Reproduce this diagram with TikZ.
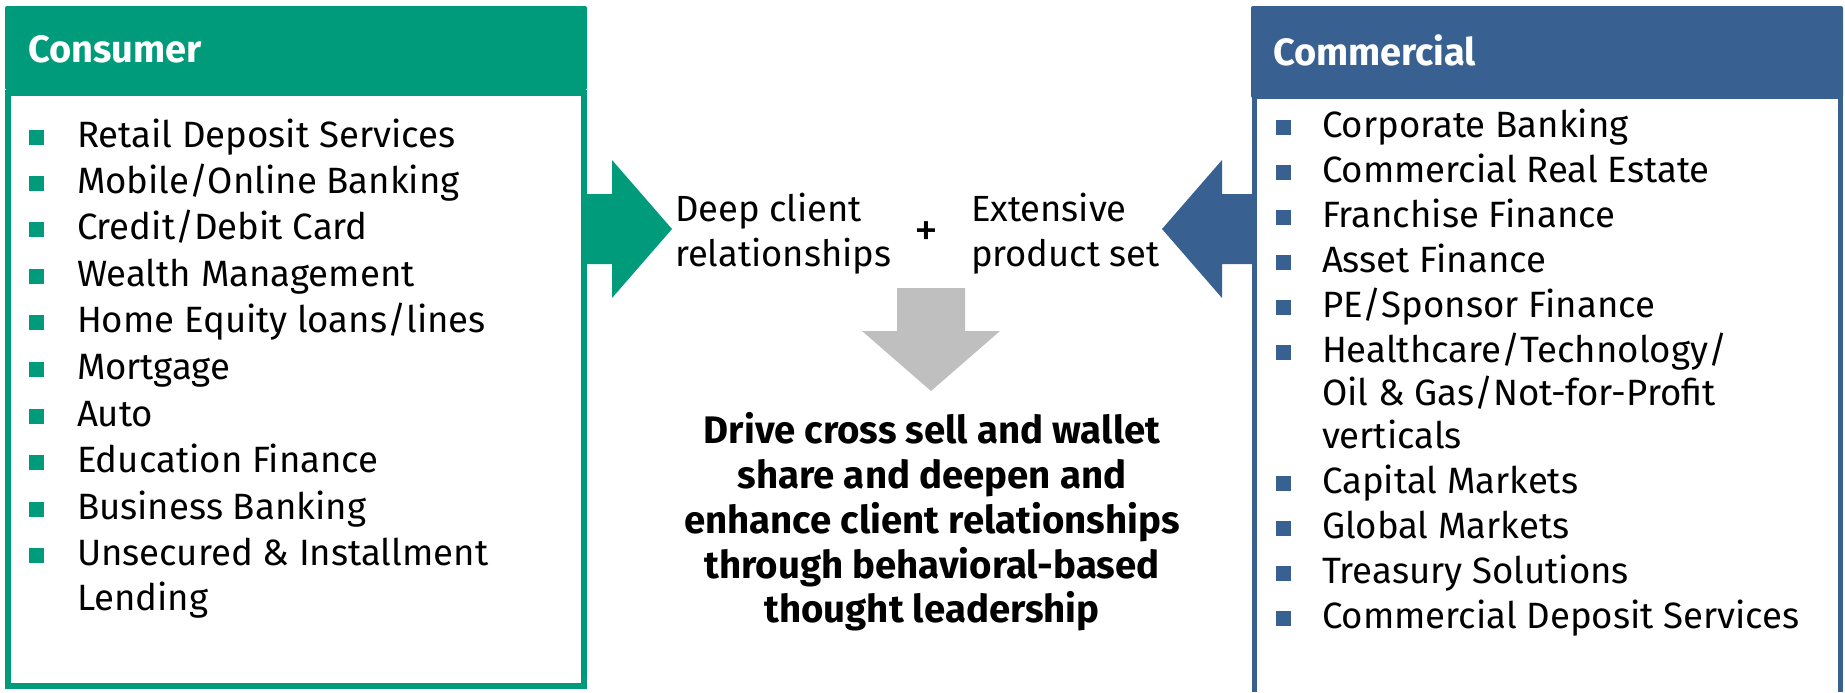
\documentclass[tikz,border=0pt]{standalone}
\usepackage{fontspec}
\setmainfont{Fira Sans}
\definecolor{consgreen}{RGB}{0,155,122}
\definecolor{commblue}{RGB}{56,97,146}
\definecolor{arrowgray}{RGB}{191,191,191}

% one bulleted line: name, colour, bullet x, text x, baseline, text
\newcommand{\panelitem}[6]{%
  \fill[#2] (#3,#5-17) rectangle ++(15,15);
  \node[itemtext] (#1) at (#4,#5) {#6};}

\begin{document}
\begin{tikzpicture}[x=0.5pt,y=-0.5pt,
  itemtext/.style={inner sep=0pt,outer sep=0pt,anchor=base west,
    font=\fontsize{18.3}{20}\selectfont},
  headtext/.style={inner sep=0pt,outer sep=0pt,anchor=base west,text=white,
    font=\fontsize{19}{22}\selectfont\bfseries},
  midtext/.style={inner sep=0pt,outer sep=0pt,anchor=base west,
    font=\fontsize{18.2}{22}\selectfont},
  goaltext/.style={inner sep=0pt,outer sep=0pt,anchor=base,
    font=\fontsize{19.2}{22}\selectfont\bfseries}]
\useasboundingbox (0,0) rectangle (1845,692);
\fill[white] (0,0) rectangle (1845,692);

% ---- Consumer panel ----
\fill[consgreen,rounded corners=1pt] (5,6) rectangle (587,90);
\draw[consgreen,line width=3pt] (8,93) rectangle (584,686);
\node[headtext] (constitle) at (28,62) {Consumer};
\panelitem{c1}{consgreen}{29}{77}{147}{Retail Deposit Services}
\panelitem{c2}{consgreen}{29}{77}{193}{Mobile/Online Banking}
\panelitem{c3}{consgreen}{29}{77}{239}{Credit/Debit Card}
\panelitem{c4}{consgreen}{29}{77}{286}{Wealth Management}
\panelitem{c5}{consgreen}{29}{77}{332}{Home Equity loans/lines}
\panelitem{c6}{consgreen}{29}{77}{379}{Mortgage}
\panelitem{c7}{consgreen}{29}{77}{426}{Auto}
\panelitem{c8}{consgreen}{29}{77}{472}{Education Finance}
\panelitem{c9}{consgreen}{29}{77}{519}{Business Banking}
\panelitem{c10}{consgreen}{29}{77}{565}{Unsecured \& Installment}
\node[itemtext] (c10b) at (77,610) {Lending};

% ---- Commercial panel (runs off the right and bottom edges) ----
\fill[commblue,rounded corners=1pt] (1251,6) rectangle (1843,98);
\draw[commblue,line width=2.5pt] (1254.5,692) -- (1254.5,96) -- (1840.5,96) -- (1840.5,692);
\node[headtext] (commtitle) at (1273,65) {Commercial};
\panelitem{m1}{commblue}{1276}{1322}{137}{Corporate Banking}
\panelitem{m2}{commblue}{1276}{1322}{182}{Commercial Real Estate}
\panelitem{m3}{commblue}{1276}{1322}{227}{Franchise Finance}
\panelitem{m4}{commblue}{1276}{1322}{272}{Asset Finance}
\panelitem{m5}{commblue}{1276}{1322}{317}{PE/Sponsor Finance}
\panelitem{m6}{commblue}{1276}{1322}{362}{Healthcare/Technology/}
\node[itemtext] (m6b) at (1322,405) {Oil \& Gas/Not-for-Profit};
\node[itemtext] (m6c) at (1322,448) {verticals};
\panelitem{m7}{commblue}{1276}{1322}{493}{Capital Markets}
\panelitem{m8}{commblue}{1276}{1322}{538}{Global Markets}
\panelitem{m9}{commblue}{1276}{1322}{583}{Treasury Solutions}
\panelitem{m10}{commblue}{1276}{1322}{628}{Commercial Deposit Services}

% ---- block arrows ----
\fill[consgreen] (586,194) -- (612,194) -- (612,160) -- (672,229)
  -- (612,298) -- (612,264) -- (586,264) -- cycle;
\fill[commblue] (1252,194) -- (1222,194) -- (1222,160) -- (1162,229)
  -- (1222,298) -- (1222,264) -- (1252,264) -- cycle;
\fill[arrowgray] (897,288) -- (965,288) -- (965,331) -- (1000,331)
  -- (931,391) -- (862,331) -- (897,331) -- cycle;

% ---- centre texts ----
\node[midtext] (deep1) at (675,221) {Deep client};
\node[midtext] (deep2) at (675,266) {relationships};
\node[midtext,anchor=center,font=\fontsize{24}{24}\selectfont] (plus) at (926,234) {+};
\node[midtext] (ext1) at (971,221) {Extensive};
\node[midtext] (ext2) at (971,266) {product set};

\node[goaltext] (g1) at (932,443) {Drive cross sell and wallet};
\node[goaltext] (g2) at (932,488) {share and deepen and};
\node[goaltext] (g3) at (932,533) {enhance client relationships};
\node[goaltext] (g4) at (932,578) {through behavioral-based};
\node[goaltext] (g5) at (932,622) {thought leadership};
\end{tikzpicture}
\end{document}
